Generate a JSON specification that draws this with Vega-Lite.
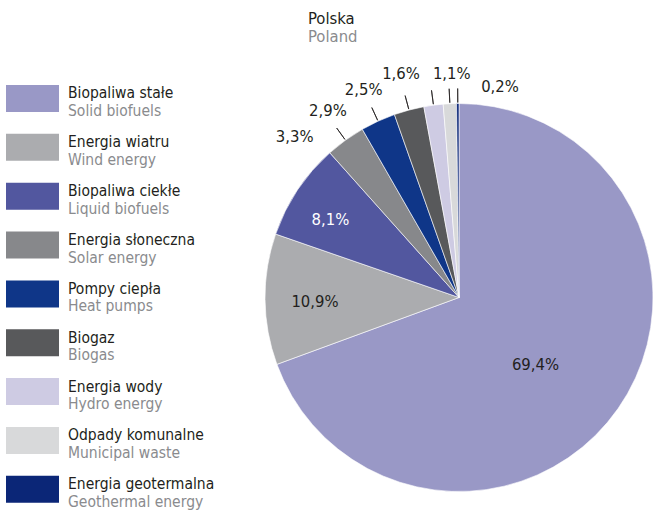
{
  "$schema": "https://vega.github.io/schema/vega-lite/v6.json",
  "padding": {"top": 10, "left": 0, "right": 0, "bottom": 0},
  "background": "white",
  "bounds": "flush",
  "spacing": 0,
  "config": {
    "view": {"stroke": null},
    "font": "DejaVu Sans Condensed, sans-serif"
  },
  "datasets": {
    "energy": [
      {"idx": 1, "pl": "Biopaliwa stałe", "en": "Solid biofuels", "value": 69.4, "label": "69,4%"},
      {"idx": 2, "pl": "Energia wiatru", "en": "Wind energy", "value": 10.9, "label": "10,9%"},
      {"idx": 3, "pl": "Biopaliwa ciekłe", "en": "Liquid biofuels", "value": 8.1, "label": "8,1%"},
      {"idx": 4, "pl": "Energia słoneczna", "en": "Solar energy", "value": 3.3, "label": "3,3%"},
      {"idx": 5, "pl": "Pompy ciepła", "en": "Heat pumps", "value": 2.9, "label": "2,9%"},
      {"idx": 6, "pl": "Biogaz", "en": "Biogas", "value": 2.5, "label": "2,5%"},
      {"idx": 7, "pl": "Energia wody", "en": "Hydro energy", "value": 1.6, "label": "1,6%"},
      {"idx": 8, "pl": "Odpady komunalne", "en": "Municipal waste", "value": 1.1, "label": "1,1%"},
      {"idx": 9, "pl": "Energia geotermalna", "en": "Geothermal energy", "value": 0.2, "label": "0,2%"}
    ]
  },
  "data": {"name": "energy"},
  "hconcat": [
    {
      "width": 264,
      "height": 399.3,
      "title": {"text": "Polska", "subtitle": "Poland", "anchor": "start", "frame": "group", "dx": 308, "fontSize": 16.5, "subtitleFontSize": 16.5, "fontWeight": "normal", "color": "#231f20", "subtitleColor": "#8a8b8e", "subtitlePadding": 2, "offset": 39},
      "encoding": {
        "y": {"field": "pl", "type": "nominal", "sort": {"field": "idx", "op": "min"}, "scale": {"type": "point", "padding": 0.087, "align": 1}, "axis": null}
      },
      "layer": [
        {
          "mark": {"type": "point", "shape": "M-1,-0.51H1V0.51H-1Z", "filled": true, "size": 2809, "opacity": 1, "strokeWidth": 0},
          "encoding": {
            "x": {"value": 32.5},
            "color": {"field": "pl", "type": "nominal", "legend": null,
              "scale": {"domain": ["Biopaliwa stałe", "Energia wiatru", "Biopaliwa ciekłe", "Energia słoneczna", "Pompy ciepła", "Biogaz", "Energia wody", "Odpady komunalne", "Energia geotermalna"],
                        "range": ["#9998c6", "#abacaf", "#52579f", "#87888b", "#0f3688", "#58595b", "#cecbe3", "#d8d9da", "#0b2677"]}}
          }
        },
        {
          "mark": {"type": "text", "align": "left", "baseline": "alphabetic", "fontSize": 15.5, "color": "#231f20"},
          "encoding": {"x": {"value": 68}, "text": {"field": "pl"}}
        },
        {
          "mark": {"type": "text", "align": "left", "baseline": "alphabetic", "dy": 17.5, "fontSize": 15.5, "color": "#8a8b8e"},
          "encoding": {"x": {"value": 68}, "text": {"field": "en"}}
        }
      ]
    },
    {
      "width": 390,
      "height": 415,
      "encoding": {
        "theta": {"field": "value", "type": "quantitative", "stack": true, "scale": {"domain": [0, 100]}},
        "order": {"field": "idx", "type": "quantitative"}
      },
      "layer": [
        {
          "mark": {"type": "arc", "outerRadius": 194, "stroke": "white", "strokeWidth": 0.6},
          "encoding": {
            "color": {"field": "pl", "type": "nominal", "legend": null,
              "scale": {"domain": ["Biopaliwa stałe", "Energia wiatru", "Biopaliwa ciekłe", "Energia słoneczna", "Pompy ciepła", "Biogaz", "Energia wody", "Odpady komunalne", "Energia geotermalna"],
                        "range": ["#9998c6", "#abacaf", "#52579f", "#87888b", "#0f3688", "#58595b", "#cecbe3", "#d8d9da", "#0b2677"]}}
          }
        },
        {
          "mark": {"type": "arc", "outerRadius": 209, "innerRadius": 195, "padAngle": 0.4, "fillOpacity": 0, "strokeWidth": 0.8},
          "encoding": {
            "stroke": {"condition": {"test": "datum.value < 5", "value": "#231f20"}, "value": "transparent"}
          }
        },
        {
          "mark": {"type": "text", "radius": 100, "dx": -5.5, "dy": 9.8, "fontSize": 16.5, "color": "#231f20"},
          "encoding": {"text": {"condition": {"test": "datum.idx === 1", "field": "label"}, "value": ""}}
        },
        {
          "mark": {"type": "text", "radius": 144, "dy": 3.5, "fontSize": 16.5, "color": "#231f20"},
          "encoding": {"text": {"condition": {"test": "datum.idx === 2", "field": "label"}, "value": ""}}
        },
        {
          "mark": {"type": "text", "radius": 150, "dx": -3.7, "dy": 5.6, "fontSize": 16.5, "color": "white"},
          "encoding": {"text": {"condition": {"test": "datum.idx === 3", "field": "label"}, "value": ""}}
        },
        {
          "mark": {"type": "text", "radius": 222, "dx": -34.4, "dy": 19.5, "fontSize": 16.5, "color": "#231f20"},
          "encoding": {"text": {"condition": {"test": "datum.idx === 4", "field": "label"}, "value": ""}}
        },
        {
          "mark": {"type": "text", "radius": 222, "dx": -38.4, "dy": 14.8, "fontSize": 16.5, "color": "#231f20"},
          "encoding": {"text": {"condition": {"test": "datum.idx === 5", "field": "label"}, "value": ""}}
        },
        {
          "mark": {"type": "text", "radius": 222, "dx": -38.1, "dy": 7.3, "fontSize": 16.5, "color": "#231f20"},
          "encoding": {"text": {"condition": {"test": "datum.idx === 6", "field": "label"}, "value": ""}}
        },
        {
          "mark": {"type": "text", "radius": 222, "dx": -28.8, "dy": -3.7, "fontSize": 16.5, "color": "#231f20"},
          "encoding": {"text": {"condition": {"test": "datum.idx === 7", "field": "label"}, "value": ""}}
        },
        {
          "mark": {"type": "text", "radius": 222, "dx": 3.2, "dy": -2, "fontSize": 16.5, "color": "#231f20"},
          "encoding": {"text": {"condition": {"test": "datum.idx === 8", "field": "label"}, "value": ""}}
        },
        {
          "mark": {"type": "text", "radius": 222, "dx": 42.4, "dy": 11.8, "fontSize": 16.5, "color": "#231f20"},
          "encoding": {"text": {"condition": {"test": "datum.idx === 9", "field": "label"}, "value": ""}}
        }
      ]
    }
  ]
}
